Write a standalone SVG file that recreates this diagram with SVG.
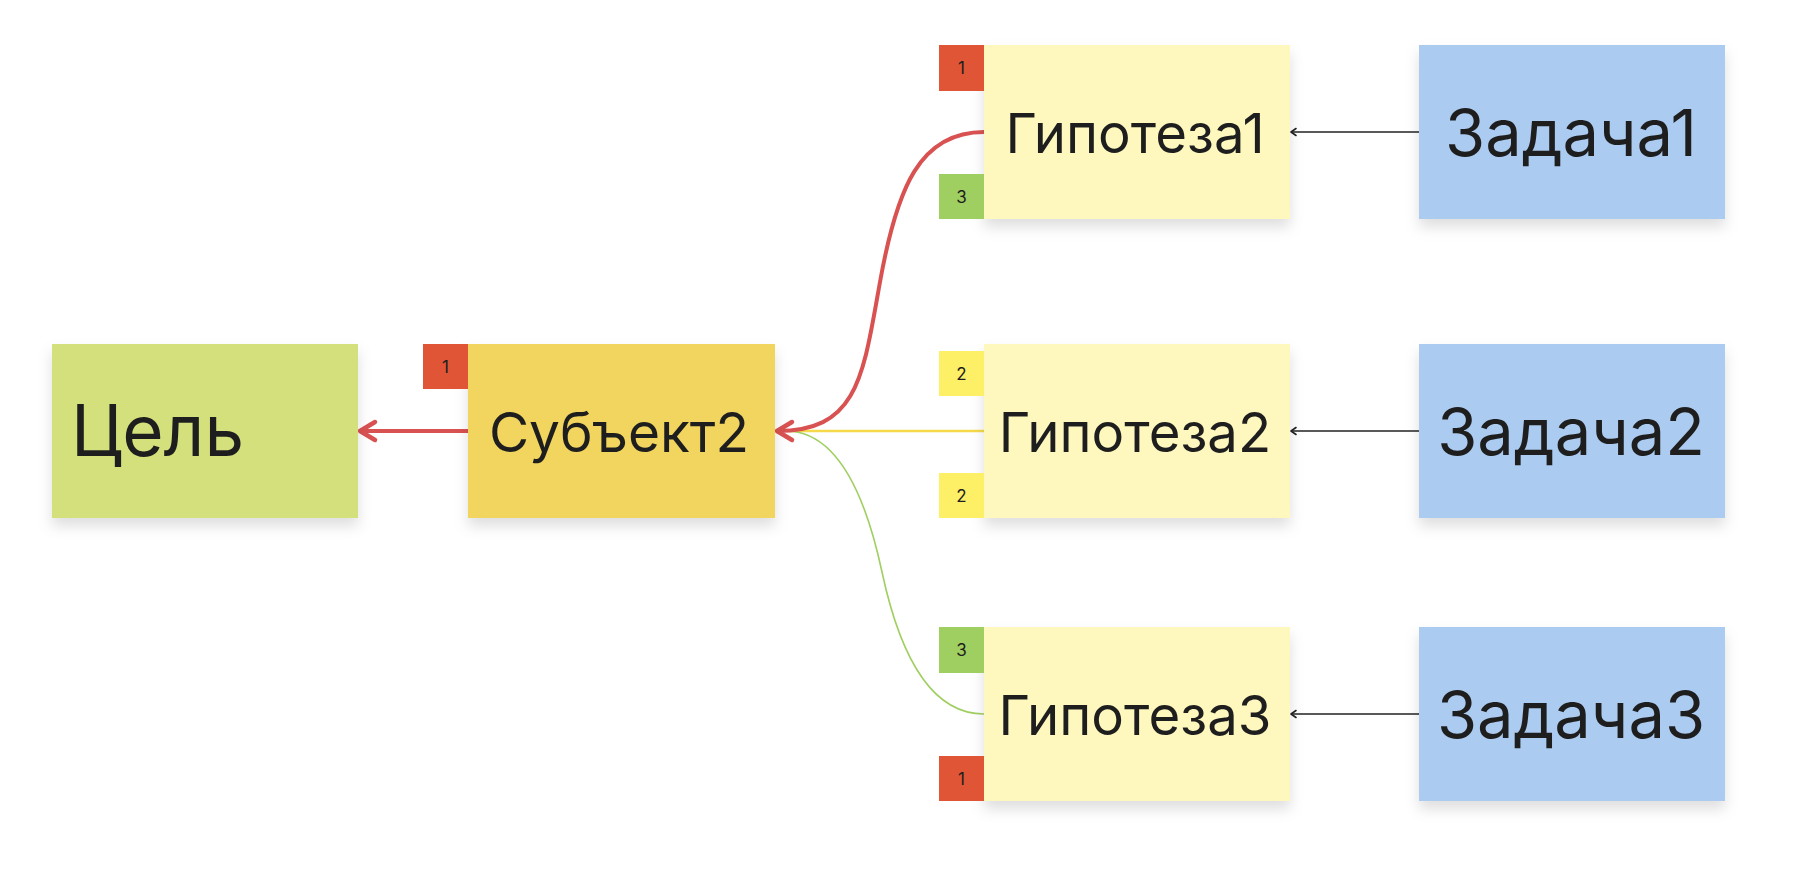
<svg xmlns="http://www.w3.org/2000/svg" width="1794" height="884" viewBox="0 0 1794 884">
<defs>
<filter id="sh" x="-10%" y="-10%" width="120%" height="135%">
<feDropShadow dx="0" dy="8" stdDeviation="7" flood-color="#000" flood-opacity="0.13"/>
</filter>
<marker id="redArr" markerUnits="userSpaceOnUse" markerWidth="26" markerHeight="26" refX="21" refY="12" orient="auto" viewBox="0 0 26 24">
<polyline points="6,3 21,12 6,21" fill="none" stroke="#d95252" stroke-width="4.5" stroke-linecap="round" stroke-linejoin="round"/>
</marker>
<marker id="blkArr" markerUnits="userSpaceOnUse" markerWidth="12" markerHeight="12" refX="8" refY="6" orient="auto" viewBox="0 0 12 12">
<polyline points="3,2.5 8,6 3,9.5" fill="none" stroke="#222" stroke-width="1.6" stroke-linecap="round" stroke-linejoin="round"/>
</marker>
</defs>
<style>
text{font-family:Inter,"Noto Sans","Liberation Sans",sans-serif;fill:#1e1e1e}
.goalt{font-size:71px}
.big{font-size:65px}
.mid{font-size:54.5px}
.subt{font-size:55px}
.badge text{font-size:17px;text-anchor:middle}
.c{text-anchor:middle}
.goal{fill:#d4e07b}
.subj{fill:#f1d55f}
.hyp{fill:#fef8bf}
.task{fill:#abcbf0}
.red{fill:#e05535}
.grn{fill:#a0cf61}
.yel{fill:#fdf066}
</style>
<rect width="1794" height="884" fill="#fff"/>

<g id="connectors" fill="none">
<path d="M984,431 L790,431" stroke="#f5d94a" stroke-width="2.5"/>
<path d="M984,714 C925,714 897,642 882,572 S840,431 786,431" stroke="#a0cf61" stroke-width="1.6"/>
<path d="M984,132 C920,132 897,187 880,282 S858,431 777,431" stroke="#d95252" stroke-width="4" marker-end="url(#redArr)"/>
<path d="M468,431 L360,431" stroke="#d95252" stroke-width="4" marker-end="url(#redArr)"/>
<path d="M1419,132 L1291,132" stroke="#222" stroke-width="1.4" marker-end="url(#blkArr)"/>
<path d="M1419,431 L1291,431" stroke="#222" stroke-width="1.4" marker-end="url(#blkArr)"/>
<path d="M1419,714 L1291,714" stroke="#222" stroke-width="1.4" marker-end="url(#blkArr)"/>
</g>

<g id="goal">
<rect class="goal" x="52" y="344" width="306" height="174" filter="url(#sh)"/>
<text class="goalt" x="71" y="456">Цель</text>
</g>

<g id="subject2">
<rect class="subj" x="468" y="344" width="307" height="174" filter="url(#sh)"/>
<text class="subt c" x="619" y="452">Субъект2</text>
<g class="badge"><rect class="red" x="423" y="344" width="45" height="45"/><text x="445.5" y="373">1</text></g>
</g>

<g id="hyp1">
<rect class="hyp" x="984" y="45" width="306" height="174" filter="url(#sh)"/>
<text class="mid c" x="1135" y="153">Гипотеза1</text>
<g class="badge"><rect class="red" x="939" y="45" width="45" height="46"/><text x="961.5" y="74">1</text></g>
<g class="badge"><rect class="grn" x="939" y="174" width="45" height="45"/><text x="961.5" y="203">3</text></g>
</g>

<g id="hyp2">
<rect class="hyp" x="984" y="344" width="306" height="174" filter="url(#sh)"/>
<text class="mid c" x="1135" y="452">Гипотеза2</text>
<g class="badge"><rect class="yel" x="939" y="351" width="45" height="45"/><text x="961.5" y="380">2</text></g>
<g class="badge"><rect class="yel" x="939" y="473" width="45" height="45"/><text x="961.5" y="502">2</text></g>
</g>

<g id="hyp3">
<rect class="hyp" x="984" y="627" width="306" height="174" filter="url(#sh)"/>
<text class="mid c" x="1135" y="735">Гипотеза3</text>
<g class="badge"><rect class="grn" x="939" y="627" width="45" height="46"/><text x="961.5" y="656">3</text></g>
<g class="badge"><rect class="red" x="939" y="756" width="45" height="45"/><text x="961.5" y="785">1</text></g>
</g>

<g id="task1">
<rect class="task" x="1419" y="45" width="306" height="174" filter="url(#sh)"/>
<text class="big c" x="1571" y="156">Задача1</text>
</g>

<g id="task2">
<rect class="task" x="1419" y="344" width="306" height="174" filter="url(#sh)"/>
<text class="big c" x="1571" y="455">Задача2</text>
</g>

<g id="task3">
<rect class="task" x="1419" y="627" width="306" height="174" filter="url(#sh)"/>
<text class="big c" x="1571" y="738">Задача3</text>
</g>
</svg>
